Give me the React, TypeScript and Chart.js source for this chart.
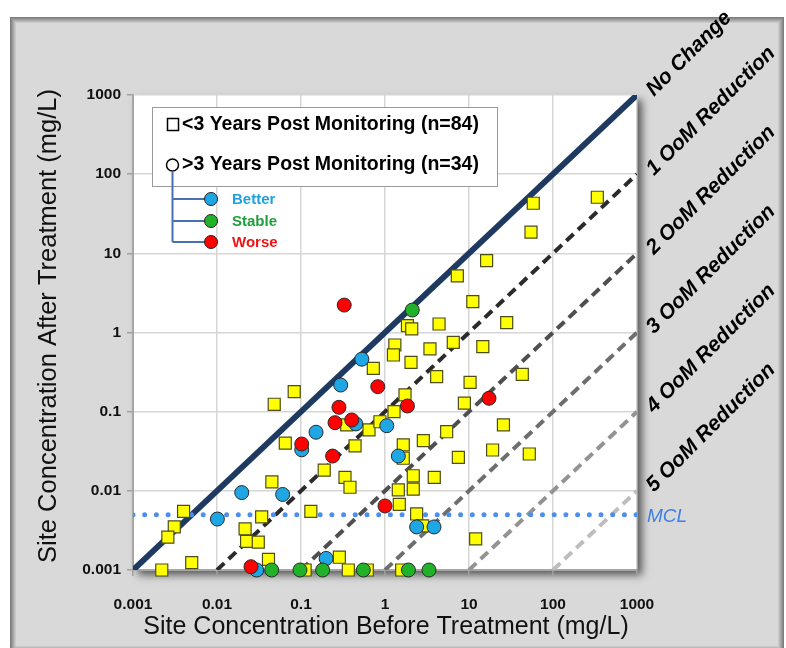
import React, { useEffect, useRef } from 'react';
import { Chart, registerables } from 'chart.js';
Chart.register(...registerables);

// ---- axis ticks ----
const tickValues = [0.001, 0.01, 0.1, 1, 10, 100, 1000];
const tickLabels = ['0.001', '0.01', '0.1', '1', '10', '100', '1000'];

// ---- <3 years post monitoring (yellow squares) ----
const shortBefore = [
  0.0022, 0.005, 0.004, 0.0031, 0.0026, 0.045, 0.034, 0.0216, 0.0225, 0.031,
  0.041, 0.065, 0.131, 0.189, 0.334, 0.383, 0.44, 0.286, 0.366, 0.615,
  0.112, 0.048, 0.083, 0.726, 1.85, 2.08, 1.31, 1.26, 2.04, 0.645,
  0.35, 0.87, 1.28, 1.73, 1.65, 58.2, 54.7, 16.2, 7.26, 11.1,
  4.4, 28.1, 3.43, 6.5, 14.6, 4.12, 10.3, 43.1, 8.81, 25.7,
  5.42, 2.86, 7.47, 19.1, 52.2, 1.65, 337, 2.17, 3.86, 1.44,
  2.17, 1.48, 2.38, 2.81, 12.0, 1.58,
];
const shortAfter = [
  0.001, 0.00124, 0.0055, 0.0035, 0.0026, 0.013, 0.0047, 0.0033, 0.0023, 0.00225,
  0.00136, 0.04, 0.0055, 0.0183, 0.0148, 0.0111, 0.037, 0.00145, 0.001, 0.001,
  0.001, 0.124, 0.179, 0.353, 1.22, 1.11, 0.695, 0.52, 0.42, 0.0588,
  0.068, 0.0746, 0.1, 0.163, 0.038, 42.9, 18.5, 8.07, 5.18, 2.45,
  1.28, 1.33, 0.62, 0.751, 0.662, 0.277, 0.235, 0.296, 0.128, 0.068,
  0.0558, 0.043, 0.0265, 0.0328, 0.0292, 0.0258, 51.1, 0.0155, 0.0148, 0.0103,
  0.0105, 0.00676, 0.0051, 0.0036, 0.00247, 0.001,
];

// ---- >3 years post monitoring (circles) ----
const betterBefore = [0.53, 0.297, 0.45, 1.05, 0.151, 0.102, 1.44, 0.0197, 0.0605, 0.0101, 0.199, 0.0297, 2.38, 3.83];
const betterAfter = [0.46, 0.217, 0.07, 0.0665, 0.055, 0.033, 0.0275, 0.0095, 0.009, 0.0044, 0.0014, 0.001, 0.0035, 0.0035];
const stableBefore = [2.11, 0.0448, 0.0973, 0.181, 0.552, 1.9, 3.34];
const stableAfter = [1.92, 0.001, 0.001, 0.001, 0.001, 0.001, 0.001];
const worseBefore = [0.327, 0.82, 0.283, 0.254, 0.402, 1.85, 0.102, 0.238, 17.3, 1.0, 0.0254];
const worseAfter = [2.22, 0.207, 0.1135, 0.0726, 0.0785, 0.118, 0.039, 0.0275, 0.1476, 0.00644, 0.0011];

// ---- reference lines ----
const mcl = 0.005;
const oomFactors = [1, 0.1, 0.01, 0.001, 0.0001, 0.00001];
const oomLabels = ['No Change', '1 OoM Reduction', '2 OoM Reduction', '3 OoM Reduction', '4 OoM Reduction', '5 OoM Reduction'];
const oomColors = ['#1f3a60', '#2b2b2b', '#4f4f4f', '#6e6e6e', '#939393', '#bdbdbd'];

const legendLabels = ['<3 Years Post Monitoring (n=84)', '>3 Years Post Monitoring (n=34)'];
const statusLabels = ['Better', 'Stable', 'Worse'];
const statusFill = ['#1ea7e4', '#22b22a', '#ff0000'];
const statusText = ['#1da1e0', '#1f9e3c', '#f01414'];

const AXMIN = 0.001;
const AXMAX = 1000;
const FONT = '"Liberation Sans", Arial, sans-serif';

const zip = (xs: number[], ys: number[]) => xs.map((x, i) => ({ x, y: ys[i] }));

export default function App() {
  const ref = useRef<HTMLCanvasElement | null>(null);
  useEffect(() => {
    const canvas = ref.current;
    if (!canvas) return;

    const lineSets = oomFactors.map((f, i) => ({
      type: 'scatter' as const,
      data: [{ x: AXMIN / f, y: AXMIN }, { x: AXMAX, y: AXMAX * f }],
      showLine: true,
      borderColor: oomColors[i],
      borderWidth: i === 0 ? 6 : 4,
      borderDash: i === 0 ? [] : [10, 6],
      pointRadius: 0,
      order: 10 + i,
    }));

    const bgPlugin = {
      id: 'bg',
      beforeDraw(chart: any) {
        const ctx = chart.ctx as CanvasRenderingContext2D;
        const a = chart.chartArea;
        ctx.save();
        ctx.fillStyle = '#ffffff';
        ctx.fillRect(0, 0, chart.width, chart.height);
        const x0 = 10, y0 = 17, x1 = 784, y1 = 652;
        for (let i = 0; i < 7; i++) {
          const t = i / 6;
          const c = Math.round(125 + t * (217 - 125));
          ctx.strokeStyle = `rgb(${c},${c},${c})`;
          ctx.lineWidth = 1;
          ctx.strokeRect(x0 + i + 0.5, y0 + i + 0.5, x1 - x0 - 2 * i - 1, y1 - y0 - 2 * i - 1);
        }
        ctx.fillStyle = '#d9d9d9';
        ctx.fillRect(x0 + 7, y0 + 7, x1 - x0 - 14, y1 - y0 - 14);
        ctx.shadowColor = 'rgba(0,0,0,0.6)';
        ctx.shadowBlur = 8;
        ctx.shadowOffsetX = 5;
        ctx.shadowOffsetY = 5;
        ctx.fillStyle = '#ffffff';
        ctx.fillRect(a.left, a.top, a.right - a.left, a.bottom - a.top);
        ctx.restore();
      },
      afterDraw(chart: any) {
        const ctx = chart.ctx as CanvasRenderingContext2D;
        const xs = chart.scales.x;
        const ys = chart.scales.y;
        const a = chart.chartArea;
        ctx.save();
        // legend box
        ctx.fillStyle = '#ffffff';
        ctx.fillRect(152, 107, 345, 79);
        ctx.strokeStyle = '#9a9a9a';
        ctx.lineWidth = 1;
        ctx.strokeRect(152.5, 107.5, 345, 79);
        ctx.strokeStyle = '#000';
        ctx.lineWidth = 1.5;
        ctx.strokeRect(167.5, 118.5, 11, 12);
        ctx.beginPath();
        ctx.arc(172.5, 165, 6, 0, Math.PI * 2);
        ctx.stroke();
        ctx.fillStyle = '#000';
        ctx.font = `bold 19.5px ${FONT}`;
        ctx.textBaseline = 'middle';
        ctx.textAlign = 'left';
        ctx.fillText(legendLabels[0], 182, 125);
        ctx.fillText(legendLabels[1], 182, 165);
        // tree
        const ty = [199, 221, 242];
        ctx.strokeStyle = '#4a6fb5';
        ctx.lineWidth = 2;
        ctx.beginPath();
        ctx.moveTo(172.5, 171);
        ctx.lineTo(172.5, ty[2]);
        ty.forEach((y) => { ctx.moveTo(172.5, y); ctx.lineTo(206, y); });
        ctx.stroke();
        ctx.font = `bold 15px ${FONT}`;
        ty.forEach((y, i) => {
          ctx.beginPath();
          ctx.arc(211, y, 6.5, 0, Math.PI * 2);
          ctx.fillStyle = statusFill[i];
          ctx.fill();
          ctx.strokeStyle = '#222';
          ctx.lineWidth = 1;
          ctx.stroke();
          ctx.fillStyle = statusText[i];
          ctx.fillText(statusLabels[i], 232, y + 1);
        });
        // OoM labels
        ctx.fillStyle = '#000';
        ctx.font = `italic bold 21px ${FONT}`;
        ctx.textBaseline = 'alphabetic';
        oomFactors.forEach((f, i) => {
          const px = xs.getPixelForValue(AXMAX);
          const py = ys.getPixelForValue(AXMAX * f);
          ctx.save();
          ctx.translate(px + 17, py + 2);
          ctx.rotate(-Math.PI / 4);
          ctx.fillText(oomLabels[i], 0, 0);
          ctx.restore();
        });
        // MCL label
        ctx.fillStyle = '#3d7fe6';
        ctx.font = `italic 19px ${FONT}`;
        ctx.textBaseline = 'middle';
        ctx.fillText('MCL', a.right + 10, ys.getPixelForValue(mcl) + 2);
        // axis titles
        ctx.fillStyle = '#111';
        ctx.textAlign = 'center';
        ctx.font = `25px ${FONT}`;
        ctx.fillText('Site Concentration Before Treatment (mg/L)', 386, 627);
        ctx.save();
        ctx.translate(49, 326);
        ctx.rotate(-Math.PI / 2);
        ctx.font = `25.5px ${FONT}`;
        ctx.fillText('Site Concentration After Treatment (mg/L)', 0, 0);
        ctx.restore();
        ctx.restore();
      },
    };

    const tickCb = (v: any) => {
      const idx = tickValues.findIndex((t) => Math.abs(Math.log10(t) - Math.log10(Number(v))) < 1e-6);
      return idx >= 0 ? tickLabels[idx] : '';
    };
    const setTicks = (s: any) => { s.ticks = tickValues.map((v) => ({ value: v })); };

    const chart = new Chart(canvas, {
      type: 'scatter',
      data: {
        datasets: [
          {
            data: zip(worseBefore, worseAfter), pointStyle: 'circle', pointRadius: 7,
            backgroundColor: statusFill[2], borderColor: '#2a2a2a', borderWidth: 1, order: 1, clip: false,
          },
          {
            data: zip(stableBefore, stableAfter), pointStyle: 'circle', pointRadius: 7,
            backgroundColor: statusFill[1], borderColor: '#2a2a2a', borderWidth: 1, order: 2, clip: false,
          },
          {
            data: zip(betterBefore, betterAfter), pointStyle: 'circle', pointRadius: 7,
            backgroundColor: statusFill[0], borderColor: '#2a2a2a', borderWidth: 1, order: 3, clip: false,
          },
          {
            data: zip(shortBefore, shortAfter), pointStyle: 'rect', pointRadius: 8.5,
            backgroundColor: '#ffff00', borderColor: '#4d4d1a', borderWidth: 1.2, order: 4, clip: false,
          },
          {
            data: [{ x: AXMIN, y: mcl }, { x: AXMAX, y: mcl }], showLine: true,
            borderColor: '#4d8fef', borderWidth: 5, borderDash: [0, 11.7], borderCapStyle: 'round',
            pointRadius: 0, order: 5,
          },
          ...lineSets,
        ] as any,
      },
      options: {
        responsive: false,
        maintainAspectRatio: false,
        devicePixelRatio: 1,
        animation: false,
        events: [],
        layout: { padding: { left: 0, right: 149, top: 95, bottom: 38 } },
        plugins: { legend: { display: false }, tooltip: { enabled: false }, title: { display: false } },
        scales: {
          x: {
            type: 'logarithmic', min: AXMIN, max: AXMAX,
            afterBuildTicks: setTicks,
            afterFit: (s: any) => { s.height = 40; },
            grid: { color: '#d6d6d6', lineWidth: 1.5, drawTicks: true, tickLength: 6, tickColor: '#a0a0a0' },
            border: { display: true, color: '#a6a6a6', width: 2 },
            ticks: { callback: tickCb, padding: 19, maxRotation: 0, autoSkip: false, color: '#111', font: { family: FONT, size: 15.5, weight: 'bold' } },
          },
          y: {
            type: 'logarithmic', min: AXMIN, max: AXMAX,
            afterBuildTicks: setTicks,
            afterFit: (s: any) => { s.width = 133; },
            grid: { color: '#d6d6d6', lineWidth: 1.5, drawTicks: true, tickLength: 6, tickColor: '#a0a0a0' },
            border: { display: true, color: '#a6a6a6', width: 2 },
            ticks: { callback: tickCb, padding: 6, autoSkip: false, color: '#111', font: { family: FONT, size: 15.5, weight: 'bold' } },
          },
        },
      } as any,
      plugins: [bgPlugin],
    });
    return () => chart.destroy();
  }, []);

  return (
    <div style={{ position: 'absolute', left: 0, top: 0, width: 786, height: 648 }}>
      <canvas ref={ref} width={786} height={648} style={{ display: 'block' }} />
    </div>
  );
}
